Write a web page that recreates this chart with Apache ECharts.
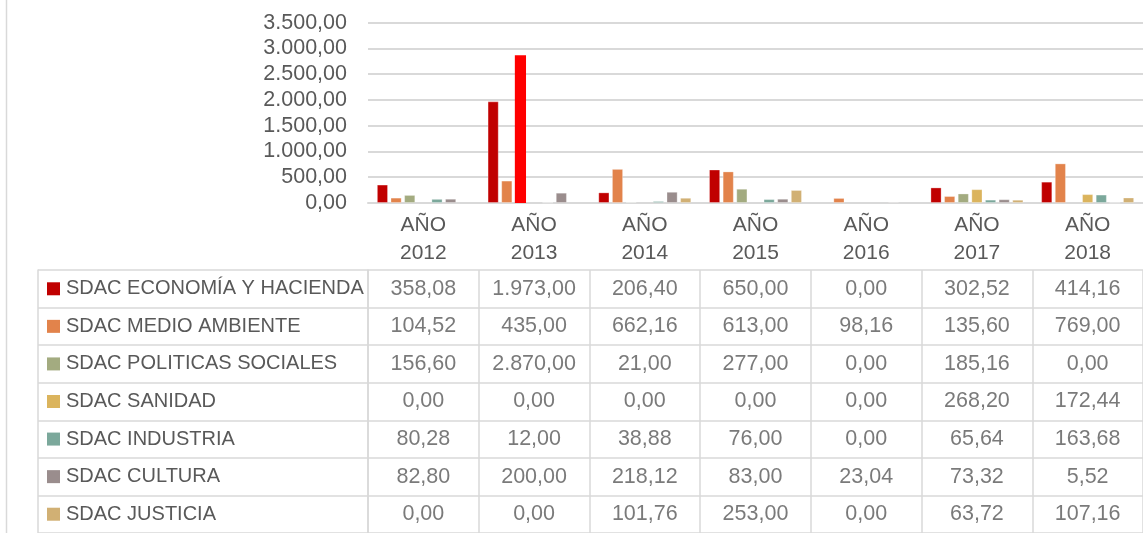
<!DOCTYPE html>
<html>
<head>
<meta charset="utf-8">
<script src="https://cdn.jsdelivr.net/npm/echarts@6/dist/echarts.min.js"></script>
<style>
  html, body { margin: 0; padding: 0; background: #fff; }
  #chart { width: 1143px; height: 533px; }
</style>
</head>
<body>
<div id="chart"></div>
<script>
(function () {
var myChart = echarts.init(document.getElementById('chart'));

var years = ['2012', '2013', '2014', '2015', '2016', '2017', '2018'];
var names = [
    'SDAC ECONOMÍA Y HACIENDA',
    'SDAC MEDIO AMBIENTE',
    'SDAC POLITICAS SOCIALES',
    'SDAC SANIDAD',
    'SDAC INDUSTRIA',
    'SDAC CULTURA',
    'SDAC JUSTICIA'
];
var economia   = [358.08, 1973.00, 206.40, 650.00, 0.00, 302.52, 414.16];
var medio      = [104.52, 435.00, 662.16, 613.00, 98.16, 135.60, 769.00];
var politicas  = [156.60, 2870.00, 21.00, 277.00, 0.00, 185.16, 0.00];
var sanidad    = [0.00, 0.00, 0.00, 0.00, 0.00, 268.20, 172.44];
var industria  = [80.28, 12.00, 38.88, 76.00, 0.00, 65.64, 163.68];
var cultura    = [82.80, 200.00, 218.12, 83.00, 23.04, 73.32, 5.52];
var justicia   = [0.00, 0.00, 101.76, 253.00, 0.00, 63.72, 107.16];
var yTicks = [0, 500, 1000, 1500, 2000, 2500, 3000, 3500];

var values = [economia, medio, politicas, sanidad, industria, cultura, justicia];
var color = ['#C00000', '#E2834B', '#A3AB80', '#DBB45D', '#7BA89B', '#9A8D8D', '#D1B074'];
var textColor = '#595959';
var lineColor = '#d9d9d9';
var font = 'Liberation Sans';

function fmt(v) {
    var s = v.toFixed(2).split('.');
    return s[0].replace(/\B(?=(\d{3})+(?!\d))/g, '.') + ',' + s[1];
}

// bar series (the 2013 POLITICAS SOCIALES bar is highlighted in red)
var bars = [];
for (var i = 0; i < names.length; i++) {
    var d = values[i].map(function (v, j) {
        if (i === 2 && j === 1) {
            return { value: v, itemStyle: { color: '#FF0000', borderWidth: 0 } };
        }
        if (v === 0) {
            return { value: v, itemStyle: { borderWidth: 0, opacity: 0 } };
        }
        return v;
    });
    bars.push({
        name: names[i],
        type: 'bar',
        xAxisIndex: 0,
        yAxisIndex: 0,
        barGap: '22%',
        barCategoryGap: '16%',
        itemStyle: {
            color: color[i],
            borderColor: 'rgba(255,255,255,0.3)',
            borderWidth: 1
        },
        data: d
    });
}

// table cells
var cells = [];
for (var r = 0; r < names.length; r++) {
    for (var c = 0; c < years.length; c++) {
        cells.push([c, r, values[r][c]]);
    }
}

var rich = { gap: { width: 6 }, t: { fontSize: 20, color: textColor, fontFamily: font } };
for (var k = 0; k < color.length; k++) {
    rich['sq' + k] = { width: 13, height: 13, backgroundColor: color[k] };
}

var tableTop = 270, rowH = 38.5;

var option = {
    backgroundColor: '#fff',
    animation: false,
    textStyle: { fontFamily: font },
    graphic: [{
        type: 'line',
        shape: { x1: 6.5, y1: 0, x2: 6.5, y2: 533 },
        style: { stroke: lineColor, lineWidth: 1.5 }
    }],
    grid: [
        { left: 368, width: 784, top: 22.7, height: 180.3 },
        { left: 38, width: 330, top: tableTop, height: rowH * names.length },
        { left: 368, width: 784, top: tableTop, height: rowH * names.length }
    ],
    xAxis: [{
        gridIndex: 0,
        type: 'category',
        data: years,
        axisLine: { lineStyle: { color: lineColor, width: 2 } },
        axisTick: { length: 62, interval: 0, lineStyle: { color: lineColor, width: 1.5 } },
        axisLabel: {
            interval: 0,
            margin: 8,
            fontSize: 21,
            lineHeight: 28,
            color: textColor,
            formatter: function (v) { return 'AÑO\n' + v; }
        }
    }, {
        gridIndex: 1,
        type: 'value',
        show: false
    }, {
        gridIndex: 2,
        type: 'category',
        data: years,
        axisLine: { show: false },
        axisTick: { show: false },
        axisLabel: { show: false },
        splitLine: { show: true, interval: 0, lineStyle: { color: lineColor, width: 1.5 } }
    }],
    yAxis: [{
        gridIndex: 0,
        type: 'value',
        min: yTicks[0],
        max: yTicks[yTicks.length - 1],
        interval: yTicks[1] - yTicks[0],
        axisLine: { show: false },
        axisTick: { show: false },
        axisLabel: {
            margin: 21,
            fontSize: 21.5,
            color: textColor,
            formatter: function (v) { return fmt(v); }
        },
        splitLine: { lineStyle: { color: lineColor, width: 2 } }
    }, {
        gridIndex: 1,
        type: 'category',
        inverse: true,
        data: names,
        axisLine: { show: true, lineStyle: { color: lineColor, width: 1.5 } },
        axisTick: { show: false },
        axisLabel: {
            inside: true,
            interval: 0,
            margin: 9,
            align: 'left',
            formatter: function (v, idx) {
                return '{sq' + idx + '|}{gap|}{t|' + v + '}';
            },
            rich: rich
        },
        splitLine: { show: true, interval: 0, lineStyle: { color: lineColor, width: 1.5 } }
    }, {
        gridIndex: 2,
        type: 'category',
        inverse: true,
        data: names,
        axisLine: { show: true, lineStyle: { color: lineColor, width: 1.5 } },
        axisTick: { show: false },
        axisLabel: { show: false },
        splitLine: { show: true, interval: 0, lineStyle: { color: lineColor, width: 1.5 } }
    }],
    series: bars.concat([{
        type: 'scatter',
        xAxisIndex: 2,
        yAxisIndex: 2,
        symbolSize: 0,
        silent: true,
        label: {
            show: true,
            position: 'inside',
            fontSize: 21.5,
            color: textColor,
            formatter: function (p) { return fmt(p.value[2]); }
        },
        data: cells
    }])
};

myChart.setOption(option);
window.addEventListener('resize', function () {
    myChart.resize();
});
})();
</script>
</body>
</html>
